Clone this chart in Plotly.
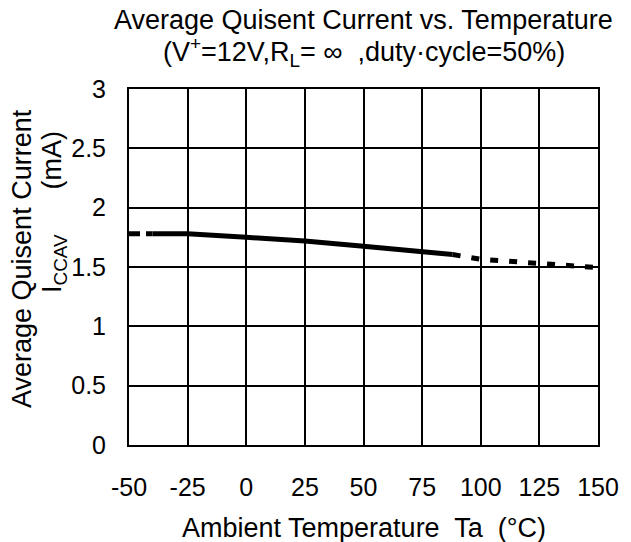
import plotly.graph_objects as go

temp_c = [-50, -40, -25, 0, 25, 50, 75, 88, 100, 125, 150]
iccav_ma = [1.78, 1.78, 1.78, 1.75, 1.72, 1.675, 1.63, 1.605, 1.565, 1.53, 1.495]
# segment index ranges: dashed start, solid middle, dotted extrapolation
seg_dash = (0, 2)
seg_solid = (1, 8)
seg_dot = (7, 11)

x_ticks = [-50, -25, 0, 25, 50, 75, 100, 125, 150]
y_ticks = [0, 0.5, 1, 1.5, 2, 2.5, 3]

FONT = "Liberation Sans, Arial, sans-serif"

fig = go.Figure()
for (a, b), dash in [(seg_dash, "11px,6px"), (seg_solid, "solid"), (seg_dot, "8px,11px")]:
    fig.add_trace(go.Scatter(
        x=temp_c[a:b], y=iccav_ma[a:b], mode="lines",
        line=dict(color="black", width=5, dash=dash),
        showlegend=False, hoverinfo="skip"))

axis_common = dict(
    showgrid=True, gridcolor="black", gridwidth=2,
    showline=True, linecolor="black", linewidth=2, mirror=True,
    zeroline=False, ticks="", tickfont=dict(family=FONT, size=25, color="black"),
)
fig.update_xaxes(range=[-50, 150], tickvals=x_ticks, ticktext=[str(v) for v in x_ticks],
                 ticklabelstandoff=19, **axis_common)
fig.update_yaxes(range=[0, 3], tickvals=y_ticks, ticktext=[f"{v:g}" for v in y_ticks],
                 ticklabelstandoff=16, **axis_common)

TF = dict(size=27, family=FONT, color="black")
NB = "\u00a0"
fig.update_layout(
    width=631, height=542,
    margin=dict(l=129, r=24, t=89, b=97),
    paper_bgcolor="white", plot_bgcolor="white",
    font=dict(family=FONT, color="black"),
    annotations=[
        dict(text="Average Quisent Current vs. Temperature", xref="paper", yref="paper",
             x=0.5, y=1, yshift=69, showarrow=False, font=TF,
             xanchor="center", yanchor="middle"),
        dict(text="(V<sup>+</sup>=12V,R<sub>L</sub>= ∞  ,duty·cycle=50%)", xref="paper", yref="paper",
             x=0.5, y=1, yshift=37, showarrow=False, font=TF,
             xanchor="center", yanchor="middle"),
        dict(text="Ambient Temperature  Ta  (°C)", xref="paper", yref="paper",
             x=0.5, y=0, yshift=-83, showarrow=False, font=TF,
             xanchor="center", yanchor="middle"),
        dict(text="Average Quisent Current", xref="paper", yref="paper",
             x=0, y=0.5, xshift=-107, yshift=8, textangle=-90, showarrow=False,
             font=TF, xanchor="center", yanchor="middle"),
        dict(text="I<sub>CCAV</sub>" + NB * 6 + "(mA)", xref="paper", yref="paper",
             x=0, y=0.5, xshift=-75, yshift=55, textangle=-90, showarrow=False,
             font=TF, xanchor="center", yanchor="middle"),
    ],
)

fig.write_html("out.html", config={"displayModeBar": False},
               post_script="document.body.style.margin='0';")
